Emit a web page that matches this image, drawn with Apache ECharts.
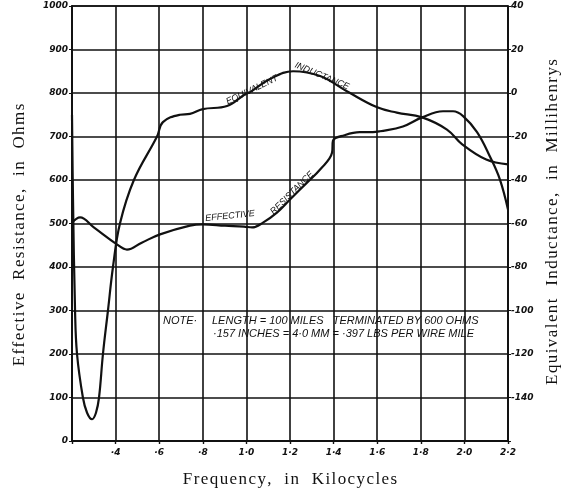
<!DOCTYPE html>
<html>
<head>
<meta charset="utf-8">
<script src="https://cdn.jsdelivr.net/npm/echarts@6/dist/echarts.min.js"></script>
<style>
  html, body { margin: 0; padding: 0; background: #fff; }
  #chart { width: 574px; height: 497px; }
</style>
</head>
<body>
<div id="chart"></div>
<script>
// frequency (kc) and equivalent inductance (mH)
const indFreq = [0.2, 0.2046, 0.214, 0.223, 0.25, 0.269, 0.292, 0.31, 0.324, 0.342, 0.365, 0.388, 0.42, 0.484, 0.59, 0.617, 0.695, 0.741, 0.8, 0.911, 0.994, 1.017, 1.108, 1.214, 1.338, 1.461, 1.6, 1.69, 1.806, 1.92, 1.99, 2.1, 2.2]
const indMH = [-10, -49, -100, -120, -140, -147, -150, -147, -140, -120, -100, -80, -60, -40, -20, -13.4, -10, -9.6, -7.4, -6, -0.6, 0.4, 6.4, 10, 7.8, 0.8, -6.6, -9, -11.2, -16.8, -23.6, -30.6, -32.8]

// frequency (kc) and effective resistance (ohms)
const resFreq = [0.2, 0.237, 0.3, 0.406, 0.452, 0.52, 0.604, 0.741, 0.8, 0.902, 0.989, 1.026, 1.076, 1.14, 1.2, 1.278, 1.338, 1.393, 1.397, 1.45, 1.52, 1.58, 1.613, 1.718, 1.806, 1.902, 1.948, 1.994, 2.058, 2.117, 2.163, 2.2]
const resOhm = [502, 514, 491, 452, 440, 456, 475, 495, 498, 495, 493, 491, 502, 525, 555, 594, 624, 663, 690, 703, 710, 710, 712, 723, 744, 758, 758, 747, 710, 654, 601, 532]

const ink = '#111'
const tickFont = { color: ink, fontSize: 9, fontStyle: 'italic', fontWeight: 'bold', fontFamily: 'DejaVu Sans' }
const noteFont = 'italic 11px "Liberation Sans"'
const curveFont = 'italic 9px "Liberation Sans"'
const nameFont = '17px "Liberation Serif"'

// spread letters a little, like the old typeset axis titles
const spaced = s => s.split(' ').map(w => w.split('').join('\u200A')).join('   ')

const fmtFreq = v => {
  if (Math.abs(v - 0.2) < 1e-6) return ''
  let s = v.toFixed(1)
  if (s[0] === '0') s = s.slice(1)
  return s.replace('.', '·')
}

const chart = echarts.init(document.getElementById('chart'))

const txt = (x, y, text, font, rot) => ({
  type: 'text', x, y, rotation: rot || 0,
  style: { text, font, fill: ink, align: 'center', verticalAlign: 'middle' }
})

chart.setOption({
  backgroundColor: '#fff',
  animation: false,
  grid: { left: 72, right: 66, top: 6, bottom: 56, show: true, borderColor: ink, borderWidth: 1.5 },
  xAxis: {
    type: 'value', min: 0.2, max: 2.2, interval: 0.2,
    axisLine: { lineStyle: { color: ink, width: 2 } },
    axisTick: { show: true, length: 3, lineStyle: { color: ink, width: 1.4 } },
    axisLabel: { ...tickFont, margin: 7, formatter: fmtFreq },
    splitLine: { lineStyle: { color: ink, width: 1.6 } }
  },
  yAxis: [{
    type: 'value', min: 0, max: 1000, interval: 100,
    axisLine: { show: true, lineStyle: { color: ink, width: 2 } },
    axisTick: { show: true, length: 3, lineStyle: { color: ink } },
    axisLabel: { ...tickFont, margin: 4, formatter: v => String(v) },
    splitLine: { lineStyle: { color: ink, width: 1.6 } }
  }, {
    type: 'value', min: -160, max: 40, interval: 20, position: 'right',
    axisLine: { show: true, lineStyle: { color: ink, width: 1.6 } },
    axisTick: { show: true, length: 3, lineStyle: { color: ink } },
    axisLabel: { ...tickFont, margin: 3, formatter: v => v === -160 ? '' : String(v) },
    splitLine: { show: false }
  }],
  series: [{
    name: 'Effective Resistance',
    type: 'line', yAxisIndex: 0,
    data: resFreq.map((f, i) => [f, resOhm[i]]),
    showSymbol: false, smooth: 0.4,
    lineStyle: { color: ink, width: 2.2 }
  }, {
    name: 'Equivalent Inductance',
    type: 'line', yAxisIndex: 1,
    data: indFreq.map((f, i) => [f, indMH[i]]),
    showSymbol: false, smooth: 0.4,
    lineStyle: { color: ink, width: 2.2 }
  }],
  graphic: [
    txt(20, 235, spaced('Effective Resistance, in Ohms'), nameFont, Math.PI / 2),
    txt(553, 222, spaced('Equivalent Inductance, in Millihenrys'), nameFont, Math.PI / 2),
    txt(290, 480, spaced('Frequency, in Kilocycles'), nameFont),
    // curve labels
    txt(252, 90, 'EQUIVALENT', curveFont, 0.45),
    txt(322, 76, 'INDUCTANCE', curveFont, -0.4),
    txt(230, 216, 'EFFECTIVE', curveFont, 0.1),
    txt(292, 193, 'RESISTANCE', curveFont, 0.78),
    // note
    { type: 'text', x: 163, y: 321, style: { text: 'NOTE·', font: noteFont, fill: ink, verticalAlign: 'middle' } },
    { type: 'text', x: 212, y: 321, style: { text: 'LENGTH = 100 MILES   TERMINATED BY 600 OHMS', font: noteFont, fill: ink, verticalAlign: 'middle' } },
    { type: 'text', x: 213, y: 334, style: { text: '·157 INCHES = 4·0 MM = ·397 LBS PER WIRE MILE', font: noteFont, fill: ink, verticalAlign: 'middle' } }
  ]
})
</script>
</body>
</html>
